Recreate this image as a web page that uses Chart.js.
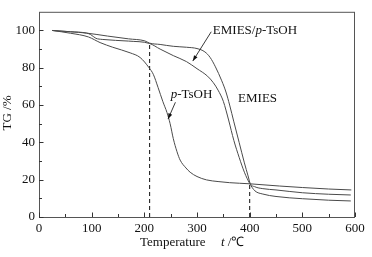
<!DOCTYPE html>
<html>
<head>
<meta charset="utf-8">
<script src="https://cdn.jsdelivr.net/npm/chart.js@4.4.1/dist/chart.umd.min.js"></script>
<style>
  html, body { margin: 0; padding: 0; background: #fff; }
  #wrap { width: 372px; height: 257px; }
</style>
</head>
<body>
<div id="wrap"><canvas id="tg"></canvas></div>
<script>
// temperatures (°C) and TG (%)
const pTsohT  = [25, 60, 94, 116, 140, 173, 192, 209, 217, 226, 235, 243, 249, 255, 262, 268, 279, 287, 300, 318, 340, 362, 400, 457, 500, 550, 593];
const pTsohTG = [100, 98.5, 96.5, 93.5, 91, 88, 85.5, 80, 76.5, 69.5, 62, 56, 50, 42, 35, 30.5, 26.3, 24, 21.7, 19.9, 19, 18.4, 17.8, 16.6, 15.8, 15, 14.5];

const emiesT  = [25, 60, 90, 130, 170, 201, 210, 230, 255, 280, 300, 315, 325, 335, 347, 355, 362, 370, 380, 390, 397, 401, 410, 425, 450, 500, 550, 592];
const emiesTG = [100, 99.3, 98.6, 97, 95.5, 94.4, 93.2, 92.5, 91.5, 91, 90.3, 88.5, 85.5, 80.5, 73, 67, 60, 51, 40, 29, 22, 18, 16.2, 15.2, 14.5, 13, 12.2, 11.8];

const mixT  = [25, 60, 90, 98, 108, 120, 170, 210, 230, 255, 280, 300, 320, 331, 340, 350, 360, 370, 380, 390, 400, 410, 425, 450, 500, 550, 592];
const mixTG = [100, 99.3, 98.6, 97.8, 95.8, 95.2, 94.3, 93, 90, 86.5, 83.3, 79.5, 75.5, 72, 68, 62, 52, 41, 32, 24, 18, 14, 12.3, 11, 9.8, 9, 8.6];

const dropT  = [210, 400];
const dropTG = [93, 18];

const xTicks = [0, 100, 200, 300, 400, 500, 600];
const yTicks = [0, 20, 40, 60, 80, 100];

const serif = '"Times New Roman", "Liberation Serif", Tinos, serif';
const pts = (xs, ys) => xs.map((x, i) => ({ x: x, y: ys[i] }));

function curve(xs, ys) {
  return {
    data: pts(xs, ys),
    borderColor: '#4a4a4a',
    borderWidth: 1,
    pointRadius: 0,
    cubicInterpolationMode: 'monotone',
    fill: false
  };
}
function dropLine(t, v) {
  return {
    data: [{ x: t, y: 0 }, { x: t, y: v }],
    borderColor: '#222',
    borderWidth: 1.1,
    borderDash: [4, 3],
    pointRadius: 0
  };
}

function arrow(ctx, x1, y1, x2, y2) {
  ctx.beginPath();
  ctx.moveTo(x1, y1);
  ctx.lineTo(x2, y2);
  ctx.stroke();
  const a = Math.atan2(y2 - y1, x2 - x1);
  ctx.beginPath();
  ctx.moveTo(x2, y2);
  ctx.lineTo(x2 - 6 * Math.cos(a - 0.35), y2 - 6 * Math.sin(a - 0.35));
  ctx.lineTo(x2 - 6 * Math.cos(a + 0.35), y2 - 6 * Math.sin(a + 0.35));
  ctx.closePath();
  ctx.fill();
}

// draw pieces of mixed italic / upright text starting at x
function mixedText(ctx, parts, x, y) {
  parts.forEach(p => {
    ctx.font = (p[1] ? 'italic ' : '') + '13px ' + serif;
    ctx.fillText(p[0], x, y);
    x += ctx.measureText(p[0]).width;
  });
}

const decor = {
  id: 'decor',
  afterDraw(chart) {
    const ctx = chart.ctx;
    const xs = chart.scales.x, ys = chart.scales.y;
    const a = chart.chartArea;
    ctx.save();
    ctx.strokeStyle = '#555';
    ctx.lineWidth = 1;
    ctx.strokeRect(a.left + 0.5, a.top + 0.5, a.right - a.left - 1, a.bottom - a.top);

    // inward ticks
    ctx.strokeStyle = '#333';
    for (let v = 0; v <= 600; v += 50) {
      const px = Math.round(xs.getPixelForValue(v)) + 0.5;
      const len = v % 100 === 0 ? 4.5 : 3;
      ctx.beginPath();
      ctx.moveTo(px, a.bottom);
      ctx.lineTo(px, a.bottom - len);
      ctx.stroke();
    }
    for (let v = 0; v <= 100; v += 10) {
      const py = Math.round(ys.getPixelForValue(v)) + 0.5;
      const len = v % 20 === 0 ? 4.5 : 3;
      ctx.beginPath();
      ctx.moveTo(a.left, py);
      ctx.lineTo(a.left + len, py);
      ctx.stroke();
    }

    ctx.fillStyle = '#111';
    ctx.textBaseline = 'middle';
    ctx.textAlign = 'left';

    // axis titles
    mixedText(ctx, [['Temperature', false]], 140, 243);
    mixedText(ctx, [['t', true], [' /\u2103', false]], 221, 243);
    ctx.save();
    ctx.translate(8, 113);
    ctx.rotate(-Math.PI / 2);
    ctx.textAlign = 'center';
    ctx.font = '13px ' + serif;
    ctx.fillText('TG /%', 0, 0);
    ctx.restore();

    // curve labels
    const X = v => xs.getPixelForValue(v), Y = v => ys.getPixelForValue(v);
    mixedText(ctx, [['EMIES/', false], ['p', true], ['-TsOH', false]], X(330), Y(100));
    mixedText(ctx, [['p', true], ['-TsOH', false]], X(250), Y(65.5));
    mixedText(ctx, [['EMIES', false]], X(378), Y(63.5));

    ctx.strokeStyle = '#222';
    ctx.lineWidth = 0.9;
    arrow(ctx, X(327), Y(99.3), X(292), Y(83.6));
    arrow(ctx, X(259), Y(61.5), X(245), Y(52.5));
    ctx.restore();
  }
};

new Chart(document.getElementById('tg'), {
  type: 'line',
  data: {
    datasets: [
      curve(pTsohT, pTsohTG),
      curve(emiesT, emiesTG),
      curve(mixT, mixTG),
      dropLine(dropT[0], dropTG[0]),
      dropLine(dropT[1], dropTG[1])
    ]
  },
  options: {
    responsive: true,
    maintainAspectRatio: false,
    animation: false,
    layout: { padding: { top: 8, right: 17, left: 0, bottom: 0 } },
    plugins: { legend: { display: false }, tooltip: { enabled: false } },
    scales: {
      x: {
        type: 'linear',
        min: 0, max: 600,
        grid: { display: false, drawTicks: false },
        border: { display: false },
        afterBuildTicks: s => { s.ticks = xTicks.map(v => ({ value: v })); },
        afterFit: s => { s.height = 40; },
        ticks: { padding: 4, color: '#111', font: { family: serif, size: 13 } }
      },
      y: {
        min: 0, max: 110,
        grid: { display: false, drawTicks: false },
        border: { display: false },
        afterBuildTicks: s => { s.ticks = yTicks.map(v => ({ value: v })); },
        afterFit: s => { s.width = 39; },
        ticks: { padding: 4, color: '#111', font: { family: serif, size: 13 } }
      }
    }
  },
  plugins: [decor]
});
</script>
</body>
</html>
